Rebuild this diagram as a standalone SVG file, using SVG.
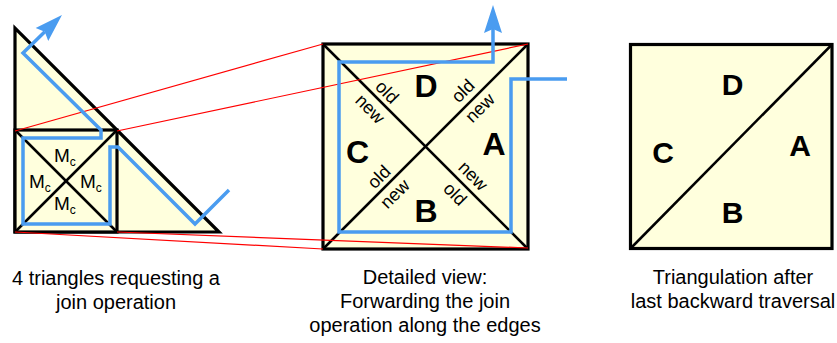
<svg xmlns="http://www.w3.org/2000/svg" width="837" height="343" viewBox="0 0 837 343">
<style>
.shape{fill:#ffffdd;stroke:#000;stroke-width:3.2;stroke-linejoin:miter}
.edge{fill:none;stroke:#000;stroke-width:2.5}
.red{fill:none;stroke:#ff0000;stroke-width:1.2}
.blue{fill:none;stroke:#4a9cf0;stroke-width:3.5;stroke-linejoin:miter}
.big{font-family:"Liberation Sans",Arial,sans-serif;font-weight:bold;text-anchor:middle;fill:#000}
.mc{font-family:"Liberation Sans",Arial,sans-serif;font-size:19px;fill:#000}
.on{font-family:"Liberation Sans",Arial,sans-serif;font-size:18px;text-anchor:middle;fill:#000}
.cap{font-family:"Liberation Sans",Arial,sans-serif;font-size:20px;text-anchor:middle;fill:#000}
</style>
<defs>
<marker id="arr" markerUnits="userSpaceOnUse" markerWidth="30" markerHeight="20" refX="4" refY="9" orient="auto" viewBox="0 0 30 18">
<path d="M28,9 L0,0 L4,9 L0,18 Z" fill="#4a9cf0"/>
</marker>
</defs>

<g id="fig-left">
<polygon class="shape" points="15,28 15,232 219,232"/>
<rect class="shape" x="15" y="130" width="102" height="102"/>
<line class="edge" x1="15" y1="130" x2="117" y2="232"/>
<line class="edge" x1="117" y1="130" x2="15" y2="232"/>
<text class="mc" x="54" y="162">M<tspan font-size="12" dy="4">c</tspan></text>
<text class="mc" x="29" y="188">M<tspan font-size="12" dy="4">c</tspan></text>
<text class="mc" x="80" y="188">M<tspan font-size="12" dy="4">c</tspan></text>
<text class="mc" x="54" y="210">M<tspan font-size="12" dy="4">c</tspan></text>
</g>

<g id="fig-middle">
<rect class="shape" x="323" y="44" width="205" height="205"/>
<line class="edge" x1="323" y1="44" x2="528" y2="249"/>
<line class="edge" x1="528" y1="44" x2="323" y2="249"/>
</g>

<g id="fig-right">
<rect class="shape" x="630.5" y="44.5" width="201.5" height="204"/>
<line class="edge" x1="630.5" y1="248.5" x2="832" y2="44.5"/>
<text class="big" font-size="30" x="732.5" y="95">D</text>
<text class="big" font-size="30" x="663" y="163">C</text>
<text class="big" font-size="30" x="800" y="156">A</text>
<text class="big" font-size="30" x="732.5" y="222.5">B</text>
</g>

<g id="connectors">
<line class="red" x1="15" y1="131" x2="323" y2="44"/>
<line class="red" x1="117" y1="131" x2="528" y2="44"/>
<line class="red" x1="15" y1="232" x2="323" y2="249"/>
<line class="red" x1="117" y1="232" x2="528" y2="248"/>
<path class="blue" d="M229,190 L195,224 L118,147 L110,147 L110,224 L23,224 L23,138 L101,138 L101,130 L23,53 L44.8,31.7" marker-end="url(#arr)"/>
<path class="blue" d="M567,79 L511,79 L511,232 L339,232 L339,62 L493,62 L493,29" marker-end="url(#arr)"/>
</g>

<g id="labels-middle">
<text class="big" font-size="32" x="426" y="97">D</text>
<text class="big" font-size="32" x="357.5" y="163">C</text>
<text class="big" font-size="32" x="494" y="155">A</text>
<text class="big" font-size="32" x="426" y="222">B</text>
<text class="on" transform="translate(387,92) rotate(45)" y="6">old</text>
<text class="on" transform="translate(369,110) rotate(45)" y="4.5">new</text>
<text class="on" transform="translate(463,91) rotate(-45)" y="6">old</text>
<text class="on" transform="translate(481,109) rotate(-45)" y="4.5">new</text>
<text class="on" transform="translate(379,177) rotate(-45)" y="6">old</text>
<text class="on" transform="translate(396,195) rotate(-45)" y="4.5">new</text>
<text class="on" transform="translate(472,177) rotate(45)" y="4.5">new</text>
<text class="on" transform="translate(455,194) rotate(45)" y="6">old</text>
</g>

<g id="caption-left">
<text class="cap" x="116" y="285">4 triangles requesting a</text>
<text class="cap" x="116" y="309">join operation</text>
</g>
<g id="caption-middle">
<text class="cap" x="425" y="284">Detailed view:</text>
<text class="cap" x="425" y="308">Forwarding the join</text>
<text class="cap" x="425" y="332">operation along the edges</text>
</g>
<g id="caption-right">
<text class="cap" x="733" y="284">Triangulation after</text>
<text class="cap" x="733" y="308">last backward traversal</text>
</g>
</svg>
